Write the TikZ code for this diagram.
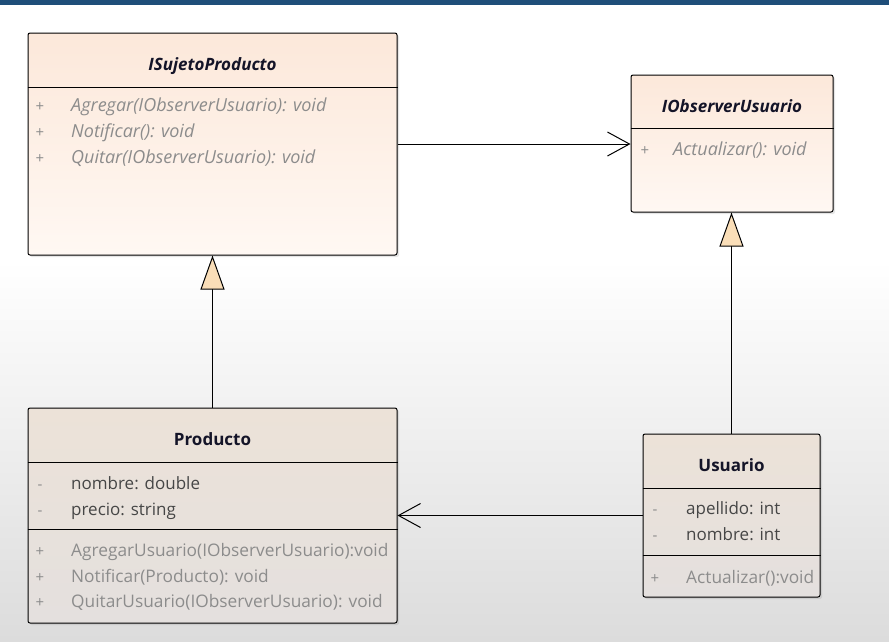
\documentclass[tikz,border=0pt]{standalone}
\usepackage{fontspec}
\setmainfont{Open Sans}
\usetikzlibrary{arrows.meta, positioning, shadows}
\definecolor{barcolor}{RGB}{31,78,121}
\definecolor{bgbottom}{RGB}{220,220,220}
\definecolor{peachtop}{RGB}{252,232,218}
\definecolor{peachbottom}{RGB}{255,248,243}
\definecolor{greytop}{RGB}{236,226,216}
\definecolor{greybottom}{RGB}{228,224,222}
\definecolor{tipcolor}{RGB}{250,222,184}
\definecolor{membercolor}{RGB}{140,140,140}
\definecolor{fieldcolor}{RGB}{70,70,70}
\definecolor{titlecolor}{RGB}{20,20,40}

\begin{document}
\begin{tikzpicture}[
    x=1pt, y=-1pt,
    classbox/.style={draw, line width=1pt, rounded corners=2pt, inner sep=0pt,
        drop shadow={opacity=0.2, shadow xshift=2pt, shadow yshift=-2pt}},
    interface/.style={classbox, top color=peachtop, bottom color=peachbottom},
    concrete/.style={classbox, top color=greytop, bottom color=greybottom},
    title/.style={anchor=base, inner sep=0pt, font=\fontsize{17}{20}\selectfont\bfseries, text=titlecolor},
    ititle/.style={title, font=\fontsize{17}{20}\selectfont\bfseries\itshape},
    sign/.style={anchor=base, inner sep=0pt, font=\fontsize{15}{18}\selectfont, text=membercolor},
    method/.style={anchor=base west, inner sep=0pt, font=\fontsize{18}{20}\selectfont\itshape, text=membercolor},
    operation/.style={anchor=base west, inner sep=0pt, font=\fontsize{17.3}{20}\selectfont, text=membercolor},
    field/.style={anchor=base west, inner sep=0pt, font=\fontsize{17}{20}\selectfont, text=fieldcolor},
    separator/.style={line width=1pt},
    realize/.style={-{Triangle[length=34pt, width=24pt, fill=tipcolor]}, line width=1pt},
    assoc/.style={-{Straight Barb[length=22pt, width=24pt]}, line width=1pt}
]
    \useasboundingbox (0,0) rectangle (889,641);

    % Background
    \fill[white] (0,0) rectangle (889,641);
    \shade[top color=white, bottom color=bgbottom] (0,260) rectangle (889,641);
    \fill[barcolor] (0,0) rectangle (889,5);

    % Classes
    \node[interface, minimum width=369pt, minimum height=222pt] (sujeto) at (212.5,144) {};
    \node[interface, minimum width=202pt, minimum height=137pt] (observer) at (732,143.5) {};
    \node[concrete, minimum width=369pt, minimum height=215pt] (producto) at (212.5,515.5) {};
    \node[concrete, minimum width=177pt, minimum height=163pt] (usuario) at (731.5,515.5) {};

    % Separators
    \draw[separator] (sujeto.west |- 0,87) -- (sujeto.east |- 0,87);
    \draw[separator] (observer.west |- 0,128) -- (observer.east |- 0,128);
    \draw[separator] (producto.west |- 0,462) -- (producto.east |- 0,462);
    \draw[separator] (producto.west |- 0,529) -- (producto.east |- 0,529);
    \draw[separator] (usuario.west |- 0,488) -- (usuario.east |- 0,488);
    \draw[separator] (usuario.west |- 0,555) -- (usuario.east |- 0,555);

    % ISujetoProducto
    \node[ititle] (sujetoName) at (212.5,70) {ISujetoProducto};
    \node[sign] (sujetoS1) at (40,111) {+};
    \node[sign] (sujetoS2) at (40,137) {+};
    \node[sign] (sujetoS3) at (40,163) {+};
    \node[method] (sujetoM1) at (71,111) {Agregar(IObserverUsuario): void};
    \node[method] (sujetoM2) at (71,137) {Notificar(): void};
    \node[method] (sujetoM3) at (71,163) {Quitar(IObserverUsuario): void};

    % IObserverUsuario
    \node[ititle] (observerName) at (732,112) {IObserverUsuario};
    \node[sign] (observerS1) at (645,155) {+};
    \node[method] (observerM1) at (673,155) {Actualizar(): void};

    % Producto
    \node[title] (productoName) at (212.5,445) {Producto};
    \node[sign] (productoS1) at (40,489) {-};
    \node[sign] (productoS2) at (40,515) {-};
    \node[field] (productoF1) at (71,489) {nombre: double};
    \node[field] (productoF2) at (71,515) {precio: string};
    \node[sign] (productoS3) at (40,556) {+};
    \node[sign] (productoS4) at (40,582) {+};
    \node[sign] (productoS5) at (40,607) {+};
    \node[operation] (productoM1) at (71,556) {AgregarUsuario(IObserverUsuario):void};
    \node[operation] (productoM2) at (71,582) {Notificar(Producto): void};
    \node[operation] (productoM3) at (71,607) {QuitarUsuario(IObserverUsuario): void};

    % Usuario
    \node[title] (usuarioName) at (731.5,471) {Usuario};
    \node[sign] (usuarioS1) at (655,514) {-};
    \node[sign] (usuarioS2) at (655,540) {-};
    \node[field] (usuarioF1) at (686,514) {apellido: int};
    \node[field] (usuarioF2) at (686,540) {nombre: int};
    \node[sign] (usuarioS3) at (655,583) {+};
    \node[operation] (usuarioM1) at (686,583) {Actualizar():void};

    % Relations
    \draw[assoc] (sujeto.east) -- (observer.west |- sujeto.east);
    \draw[assoc] (usuario.west) -- (producto.east |- usuario.west);
    \draw[realize] (producto.north) -- (sujeto.south);
    \draw[realize] (usuario.north) -- (observer.south -| usuario.north);
\end{tikzpicture}
\end{document}
